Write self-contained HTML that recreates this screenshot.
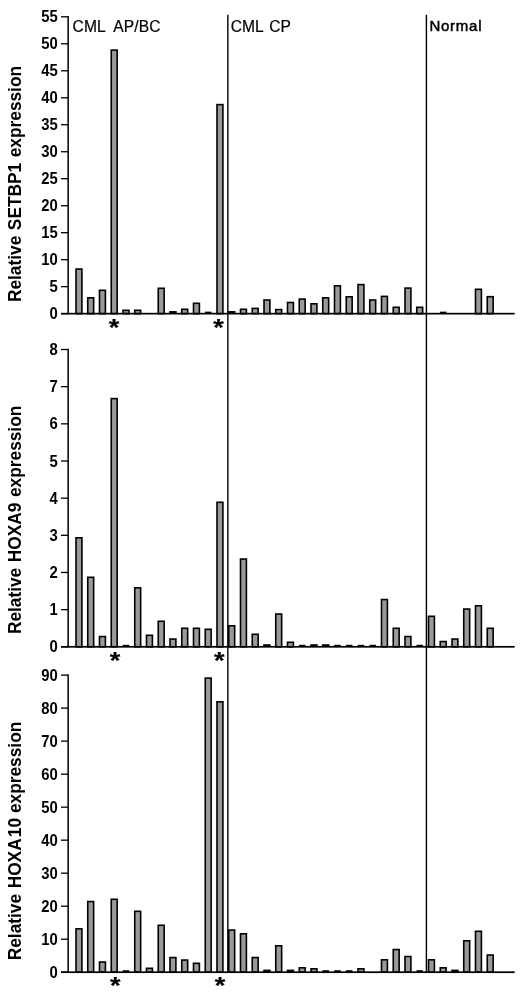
<!DOCTYPE html>
<html><head><meta charset="utf-8"><title>Relative expression</title>
<style>html,body{margin:0;padding:0;background:#fff}svg{display:block}text{font-family:"Liberation Sans",sans-serif;fill:#000}.t{font-weight:bold;font-size:16.5px}.y{font-weight:bold;font-size:17.3px;word-spacing:0.8px}.g{font-size:15.6px}.s{font-weight:bold;font-size:27px;stroke:#000;stroke-width:0.25px;stroke-linejoin:round}</style></head><body>
<svg width="520" height="995" viewBox="0 0 520 995">
<rect width="520" height="995" fill="#fff"/>
<rect x="227.15" y="14.8" width="1.4" height="958.2" fill="#000"/>
<rect x="425.7" y="14.8" width="1.4" height="958.2" fill="#000"/>
<rect x="76.00" y="269.05" width="5.90" height="44.60" fill="#9a9a9a" stroke="#000" stroke-width="1.6"/>
<rect x="87.75" y="297.80" width="5.90" height="15.85" fill="#9a9a9a" stroke="#000" stroke-width="1.6"/>
<rect x="99.50" y="290.30" width="5.90" height="23.35" fill="#9a9a9a" stroke="#000" stroke-width="1.6"/>
<rect x="111.25" y="50.10" width="5.90" height="263.55" fill="#9a9a9a" stroke="#000" stroke-width="1.6"/>
<rect x="123.00" y="310.30" width="5.90" height="3.35" fill="#9a9a9a" stroke="#000" stroke-width="1.6"/>
<rect x="134.75" y="310.30" width="5.90" height="3.35" fill="#9a9a9a" stroke="#000" stroke-width="1.6"/>
<rect x="158.25" y="288.30" width="5.90" height="25.35" fill="#9a9a9a" stroke="#000" stroke-width="1.6"/>
<rect x="169.20" y="311.05" width="7.50" height="2.6" fill="#000"/>
<rect x="181.75" y="309.30" width="5.90" height="4.35" fill="#9a9a9a" stroke="#000" stroke-width="1.6"/>
<rect x="193.50" y="303.30" width="5.90" height="10.35" fill="#9a9a9a" stroke="#000" stroke-width="1.6"/>
<rect x="204.95" y="311.65" width="6.50" height="2.0" fill="#000"/>
<rect x="217.00" y="104.60" width="5.90" height="209.05" fill="#9a9a9a" stroke="#000" stroke-width="1.6"/>
<rect x="227.95" y="311.05" width="7.50" height="2.6" fill="#000"/>
<rect x="240.50" y="309.30" width="5.90" height="4.35" fill="#9a9a9a" stroke="#000" stroke-width="1.6"/>
<rect x="252.25" y="308.40" width="5.90" height="5.25" fill="#9a9a9a" stroke="#000" stroke-width="1.6"/>
<rect x="264.00" y="300.00" width="5.90" height="13.65" fill="#9a9a9a" stroke="#000" stroke-width="1.6"/>
<rect x="275.75" y="309.60" width="5.90" height="4.05" fill="#9a9a9a" stroke="#000" stroke-width="1.6"/>
<rect x="287.50" y="302.50" width="5.90" height="11.15" fill="#9a9a9a" stroke="#000" stroke-width="1.6"/>
<rect x="299.25" y="299.10" width="5.90" height="14.55" fill="#9a9a9a" stroke="#000" stroke-width="1.6"/>
<rect x="311.00" y="303.80" width="5.90" height="9.85" fill="#9a9a9a" stroke="#000" stroke-width="1.6"/>
<rect x="322.75" y="297.80" width="5.90" height="15.85" fill="#9a9a9a" stroke="#000" stroke-width="1.6"/>
<rect x="334.50" y="285.80" width="5.90" height="27.85" fill="#9a9a9a" stroke="#000" stroke-width="1.6"/>
<rect x="346.25" y="296.80" width="5.90" height="16.85" fill="#9a9a9a" stroke="#000" stroke-width="1.6"/>
<rect x="358.00" y="284.60" width="5.90" height="29.05" fill="#9a9a9a" stroke="#000" stroke-width="1.6"/>
<rect x="369.75" y="300.00" width="5.90" height="13.65" fill="#9a9a9a" stroke="#000" stroke-width="1.6"/>
<rect x="381.50" y="296.40" width="5.90" height="17.25" fill="#9a9a9a" stroke="#000" stroke-width="1.6"/>
<rect x="393.25" y="307.30" width="5.90" height="6.35" fill="#9a9a9a" stroke="#000" stroke-width="1.6"/>
<rect x="405.00" y="288.10" width="5.90" height="25.55" fill="#9a9a9a" stroke="#000" stroke-width="1.6"/>
<rect x="416.75" y="307.30" width="5.90" height="6.35" fill="#9a9a9a" stroke="#000" stroke-width="1.6"/>
<rect x="439.95" y="311.65" width="6.50" height="2.0" fill="#000"/>
<rect x="475.50" y="289.30" width="5.90" height="24.35" fill="#9a9a9a" stroke="#000" stroke-width="1.6"/>
<rect x="487.25" y="296.70" width="5.90" height="16.95" fill="#9a9a9a" stroke="#000" stroke-width="1.6"/>
<rect x="67.4" y="16.10" width="1.5" height="298.15" fill="#000"/>
<rect x="61" y="312.80" width="453.7" height="1.7" fill="#000"/>
<rect x="61" y="313.00" width="7" height="1.3" fill="#000"/>
<text class="t" transform="translate(57.7,319.25) scale(0.9,1)" text-anchor="end">0</text>
<rect x="61" y="286.01" width="7" height="1.3" fill="#000"/>
<text class="t" transform="translate(57.7,292.26) scale(0.9,1)" text-anchor="end">5</text>
<rect x="61" y="259.03" width="7" height="1.3" fill="#000"/>
<text class="t" transform="translate(57.7,265.28) scale(0.9,1)" text-anchor="end">10</text>
<rect x="61" y="232.04" width="7" height="1.3" fill="#000"/>
<text class="t" transform="translate(57.7,238.29) scale(0.9,1)" text-anchor="end">15</text>
<rect x="61" y="205.06" width="7" height="1.3" fill="#000"/>
<text class="t" transform="translate(57.7,211.31) scale(0.9,1)" text-anchor="end">20</text>
<rect x="61" y="178.07" width="7" height="1.3" fill="#000"/>
<text class="t" transform="translate(57.7,184.32) scale(0.9,1)" text-anchor="end">25</text>
<rect x="61" y="151.09" width="7" height="1.3" fill="#000"/>
<text class="t" transform="translate(57.7,157.34) scale(0.9,1)" text-anchor="end">30</text>
<rect x="61" y="124.10" width="7" height="1.3" fill="#000"/>
<text class="t" transform="translate(57.7,130.35) scale(0.9,1)" text-anchor="end">35</text>
<rect x="61" y="97.12" width="7" height="1.3" fill="#000"/>
<text class="t" transform="translate(57.7,103.37) scale(0.9,1)" text-anchor="end">40</text>
<rect x="61" y="70.13" width="7" height="1.3" fill="#000"/>
<text class="t" transform="translate(57.7,76.38) scale(0.9,1)" text-anchor="end">45</text>
<rect x="61" y="43.15" width="7" height="1.3" fill="#000"/>
<text class="t" transform="translate(57.7,49.40) scale(0.9,1)" text-anchor="end">50</text>
<rect x="61" y="16.16" width="7" height="1.3" fill="#000"/>
<text class="t" transform="translate(57.7,22.41) scale(0.9,1)" text-anchor="end">55</text>
<text class="y" transform="translate(21.3,184.0) rotate(-90) scale(1,1.07)" text-anchor="middle">Relative SETBP1 expression</text>
<text class="s" transform="translate(114.0,335.80) scale(1,0.88)" text-anchor="middle">*</text>
<text class="s" transform="translate(218.6,335.80) scale(1,0.88)" text-anchor="middle">*</text>
<rect x="76.00" y="537.80" width="5.90" height="109.00" fill="#9a9a9a" stroke="#000" stroke-width="1.6"/>
<rect x="87.75" y="577.30" width="5.90" height="69.50" fill="#9a9a9a" stroke="#000" stroke-width="1.6"/>
<rect x="99.50" y="636.55" width="5.90" height="10.25" fill="#9a9a9a" stroke="#000" stroke-width="1.6"/>
<rect x="111.25" y="398.60" width="5.90" height="248.20" fill="#9a9a9a" stroke="#000" stroke-width="1.6"/>
<rect x="122.70" y="644.80" width="6.50" height="2.0" fill="#000"/>
<rect x="134.75" y="587.80" width="5.90" height="59.00" fill="#9a9a9a" stroke="#000" stroke-width="1.6"/>
<rect x="146.50" y="635.30" width="5.90" height="11.50" fill="#9a9a9a" stroke="#000" stroke-width="1.6"/>
<rect x="158.25" y="621.30" width="5.90" height="25.50" fill="#9a9a9a" stroke="#000" stroke-width="1.6"/>
<rect x="170.00" y="639.05" width="5.90" height="7.75" fill="#9a9a9a" stroke="#000" stroke-width="1.6"/>
<rect x="181.75" y="628.30" width="5.90" height="18.50" fill="#9a9a9a" stroke="#000" stroke-width="1.6"/>
<rect x="193.50" y="628.30" width="5.90" height="18.50" fill="#9a9a9a" stroke="#000" stroke-width="1.6"/>
<rect x="205.25" y="629.30" width="5.90" height="17.50" fill="#9a9a9a" stroke="#000" stroke-width="1.6"/>
<rect x="217.00" y="502.30" width="5.90" height="144.50" fill="#9a9a9a" stroke="#000" stroke-width="1.6"/>
<rect x="228.75" y="625.80" width="5.90" height="21.00" fill="#9a9a9a" stroke="#000" stroke-width="1.6"/>
<rect x="240.50" y="559.05" width="5.90" height="87.75" fill="#9a9a9a" stroke="#000" stroke-width="1.6"/>
<rect x="252.25" y="634.30" width="5.90" height="12.50" fill="#9a9a9a" stroke="#000" stroke-width="1.6"/>
<rect x="263.20" y="644.20" width="7.50" height="2.6" fill="#000"/>
<rect x="275.75" y="614.05" width="5.90" height="32.75" fill="#9a9a9a" stroke="#000" stroke-width="1.6"/>
<rect x="287.50" y="642.30" width="5.90" height="4.50" fill="#9a9a9a" stroke="#000" stroke-width="1.6"/>
<rect x="298.95" y="644.80" width="6.50" height="2.0" fill="#000"/>
<rect x="310.20" y="644.20" width="7.50" height="2.6" fill="#000"/>
<rect x="321.95" y="644.20" width="7.50" height="2.6" fill="#000"/>
<rect x="334.20" y="644.80" width="6.50" height="2.0" fill="#000"/>
<rect x="345.95" y="644.80" width="6.50" height="2.0" fill="#000"/>
<rect x="357.70" y="644.80" width="6.50" height="2.0" fill="#000"/>
<rect x="369.45" y="644.80" width="6.50" height="2.0" fill="#000"/>
<rect x="381.50" y="599.55" width="5.90" height="47.25" fill="#9a9a9a" stroke="#000" stroke-width="1.6"/>
<rect x="393.25" y="628.30" width="5.90" height="18.50" fill="#9a9a9a" stroke="#000" stroke-width="1.6"/>
<rect x="405.00" y="636.55" width="5.90" height="10.25" fill="#9a9a9a" stroke="#000" stroke-width="1.6"/>
<rect x="416.45" y="644.80" width="6.50" height="2.0" fill="#000"/>
<rect x="428.50" y="616.30" width="5.90" height="30.50" fill="#9a9a9a" stroke="#000" stroke-width="1.6"/>
<rect x="440.25" y="641.55" width="5.90" height="5.25" fill="#9a9a9a" stroke="#000" stroke-width="1.6"/>
<rect x="452.00" y="639.05" width="5.90" height="7.75" fill="#9a9a9a" stroke="#000" stroke-width="1.6"/>
<rect x="463.75" y="609.05" width="5.90" height="37.75" fill="#9a9a9a" stroke="#000" stroke-width="1.6"/>
<rect x="475.50" y="605.80" width="5.90" height="41.00" fill="#9a9a9a" stroke="#000" stroke-width="1.6"/>
<rect x="487.25" y="628.30" width="5.90" height="18.50" fill="#9a9a9a" stroke="#000" stroke-width="1.6"/>
<rect x="67.4" y="348.80" width="1.5" height="298.60" fill="#000"/>
<rect x="61" y="645.95" width="453.7" height="1.7" fill="#000"/>
<rect x="61" y="646.15" width="7" height="1.3" fill="#000"/>
<text class="t" transform="translate(57.7,652.40) scale(0.9,1)" text-anchor="end">0</text>
<rect x="61" y="608.99" width="7" height="1.3" fill="#000"/>
<text class="t" transform="translate(57.7,615.24) scale(0.9,1)" text-anchor="end">1</text>
<rect x="61" y="571.83" width="7" height="1.3" fill="#000"/>
<text class="t" transform="translate(57.7,578.08) scale(0.9,1)" text-anchor="end">2</text>
<rect x="61" y="534.67" width="7" height="1.3" fill="#000"/>
<text class="t" transform="translate(57.7,540.92) scale(0.9,1)" text-anchor="end">3</text>
<rect x="61" y="497.51" width="7" height="1.3" fill="#000"/>
<text class="t" transform="translate(57.7,503.76) scale(0.9,1)" text-anchor="end">4</text>
<rect x="61" y="460.35" width="7" height="1.3" fill="#000"/>
<text class="t" transform="translate(57.7,466.60) scale(0.9,1)" text-anchor="end">5</text>
<rect x="61" y="423.19" width="7" height="1.3" fill="#000"/>
<text class="t" transform="translate(57.7,429.44) scale(0.9,1)" text-anchor="end">6</text>
<rect x="61" y="386.03" width="7" height="1.3" fill="#000"/>
<text class="t" transform="translate(57.7,392.28) scale(0.9,1)" text-anchor="end">7</text>
<rect x="61" y="348.87" width="7" height="1.3" fill="#000"/>
<text class="t" transform="translate(57.7,355.12) scale(0.9,1)" text-anchor="end">8</text>
<text class="y" transform="translate(21.3,519.9) rotate(-90) scale(1,1.07)" text-anchor="middle">Relative HOXA9 expression</text>
<text class="s" transform="translate(115,669.20) scale(1,0.88)" text-anchor="middle">*</text>
<text class="s" transform="translate(219.3,669.20) scale(1,0.88)" text-anchor="middle">*</text>
<rect x="76.00" y="928.80" width="5.90" height="43.40" fill="#9a9a9a" stroke="#000" stroke-width="1.6"/>
<rect x="87.75" y="901.55" width="5.90" height="70.65" fill="#9a9a9a" stroke="#000" stroke-width="1.6"/>
<rect x="99.50" y="962.05" width="5.90" height="10.15" fill="#9a9a9a" stroke="#000" stroke-width="1.6"/>
<rect x="111.25" y="899.30" width="5.90" height="72.90" fill="#9a9a9a" stroke="#000" stroke-width="1.6"/>
<rect x="122.70" y="970.20" width="6.50" height="2.0" fill="#000"/>
<rect x="134.75" y="911.30" width="5.90" height="60.90" fill="#9a9a9a" stroke="#000" stroke-width="1.6"/>
<rect x="146.50" y="968.30" width="5.90" height="3.90" fill="#9a9a9a" stroke="#000" stroke-width="1.6"/>
<rect x="158.25" y="925.30" width="5.90" height="46.90" fill="#9a9a9a" stroke="#000" stroke-width="1.6"/>
<rect x="170.00" y="957.55" width="5.90" height="14.65" fill="#9a9a9a" stroke="#000" stroke-width="1.6"/>
<rect x="181.75" y="960.05" width="5.90" height="12.15" fill="#9a9a9a" stroke="#000" stroke-width="1.6"/>
<rect x="193.50" y="963.30" width="5.90" height="8.90" fill="#9a9a9a" stroke="#000" stroke-width="1.6"/>
<rect x="205.25" y="678.10" width="5.90" height="294.10" fill="#9a9a9a" stroke="#000" stroke-width="1.6"/>
<rect x="217.00" y="701.80" width="5.90" height="270.40" fill="#9a9a9a" stroke="#000" stroke-width="1.6"/>
<rect x="228.75" y="930.05" width="5.90" height="42.15" fill="#9a9a9a" stroke="#000" stroke-width="1.6"/>
<rect x="240.50" y="933.80" width="5.90" height="38.40" fill="#9a9a9a" stroke="#000" stroke-width="1.6"/>
<rect x="252.25" y="957.55" width="5.90" height="14.65" fill="#9a9a9a" stroke="#000" stroke-width="1.6"/>
<rect x="263.20" y="969.60" width="7.50" height="2.6" fill="#000"/>
<rect x="275.75" y="945.80" width="5.90" height="26.40" fill="#9a9a9a" stroke="#000" stroke-width="1.6"/>
<rect x="286.70" y="969.60" width="7.50" height="2.6" fill="#000"/>
<rect x="299.25" y="967.80" width="5.90" height="4.40" fill="#9a9a9a" stroke="#000" stroke-width="1.6"/>
<rect x="311.00" y="968.80" width="5.90" height="3.40" fill="#9a9a9a" stroke="#000" stroke-width="1.6"/>
<rect x="322.45" y="970.20" width="6.50" height="2.0" fill="#000"/>
<rect x="334.20" y="970.20" width="6.50" height="2.0" fill="#000"/>
<rect x="345.95" y="970.20" width="6.50" height="2.0" fill="#000"/>
<rect x="358.00" y="968.80" width="5.90" height="3.40" fill="#9a9a9a" stroke="#000" stroke-width="1.6"/>
<rect x="381.50" y="959.80" width="5.90" height="12.40" fill="#9a9a9a" stroke="#000" stroke-width="1.6"/>
<rect x="393.25" y="949.55" width="5.90" height="22.65" fill="#9a9a9a" stroke="#000" stroke-width="1.6"/>
<rect x="405.00" y="956.55" width="5.90" height="15.65" fill="#9a9a9a" stroke="#000" stroke-width="1.6"/>
<rect x="416.45" y="970.20" width="6.50" height="2.0" fill="#000"/>
<rect x="428.50" y="959.80" width="5.90" height="12.40" fill="#9a9a9a" stroke="#000" stroke-width="1.6"/>
<rect x="440.25" y="967.80" width="5.90" height="4.40" fill="#9a9a9a" stroke="#000" stroke-width="1.6"/>
<rect x="451.20" y="969.60" width="7.50" height="2.6" fill="#000"/>
<rect x="463.75" y="940.80" width="5.90" height="31.40" fill="#9a9a9a" stroke="#000" stroke-width="1.6"/>
<rect x="475.50" y="931.30" width="5.90" height="40.90" fill="#9a9a9a" stroke="#000" stroke-width="1.6"/>
<rect x="487.25" y="955.05" width="5.90" height="17.15" fill="#9a9a9a" stroke="#000" stroke-width="1.6"/>
<rect x="67.4" y="674.40" width="1.5" height="298.40" fill="#000"/>
<rect x="61" y="971.35" width="453.7" height="1.7" fill="#000"/>
<rect x="61" y="971.55" width="7" height="1.3" fill="#000"/>
<text class="t" transform="translate(57.7,977.80) scale(0.9,1)" text-anchor="end">0</text>
<rect x="61" y="938.54" width="7" height="1.3" fill="#000"/>
<text class="t" transform="translate(57.7,944.79) scale(0.9,1)" text-anchor="end">10</text>
<rect x="61" y="905.53" width="7" height="1.3" fill="#000"/>
<text class="t" transform="translate(57.7,911.78) scale(0.9,1)" text-anchor="end">20</text>
<rect x="61" y="872.52" width="7" height="1.3" fill="#000"/>
<text class="t" transform="translate(57.7,878.77) scale(0.9,1)" text-anchor="end">30</text>
<rect x="61" y="839.51" width="7" height="1.3" fill="#000"/>
<text class="t" transform="translate(57.7,845.76) scale(0.9,1)" text-anchor="end">40</text>
<rect x="61" y="806.50" width="7" height="1.3" fill="#000"/>
<text class="t" transform="translate(57.7,812.75) scale(0.9,1)" text-anchor="end">50</text>
<rect x="61" y="773.49" width="7" height="1.3" fill="#000"/>
<text class="t" transform="translate(57.7,779.74) scale(0.9,1)" text-anchor="end">60</text>
<rect x="61" y="740.48" width="7" height="1.3" fill="#000"/>
<text class="t" transform="translate(57.7,746.73) scale(0.9,1)" text-anchor="end">70</text>
<rect x="61" y="707.47" width="7" height="1.3" fill="#000"/>
<text class="t" transform="translate(57.7,713.72) scale(0.9,1)" text-anchor="end">80</text>
<rect x="61" y="674.46" width="7" height="1.3" fill="#000"/>
<text class="t" transform="translate(57.7,680.71) scale(0.9,1)" text-anchor="end">90</text>
<text class="y" transform="translate(21.3,841.0) rotate(-90) scale(1,1.07)" text-anchor="middle">Relative HOXA<tspan dx="1.2">10</tspan><tspan dx="-0.7"> expression</tspan></text>
<text class="s" transform="translate(115.3,993.50) scale(1,0.88)" text-anchor="middle">*</text>
<text class="s" transform="translate(220.0,993.60) scale(1,0.88)" text-anchor="middle">*</text>
<text class="g" x="72.6" y="32.15" style="word-spacing:4.6px;letter-spacing:0.08px;stroke:#000;stroke-width:0.2px">CML AP/BC</text>
<text class="g" x="230.8" y="32.15" style="word-spacing:1.8px;letter-spacing:0px;stroke:#000;stroke-width:0.2px">CML CP</text>
<text class="g" x="429.4" y="31.15" style="font-size:15px;stroke:#000;stroke-width:0.5px;letter-spacing:0.75px">Normal</text>
</svg>
</body></html>
